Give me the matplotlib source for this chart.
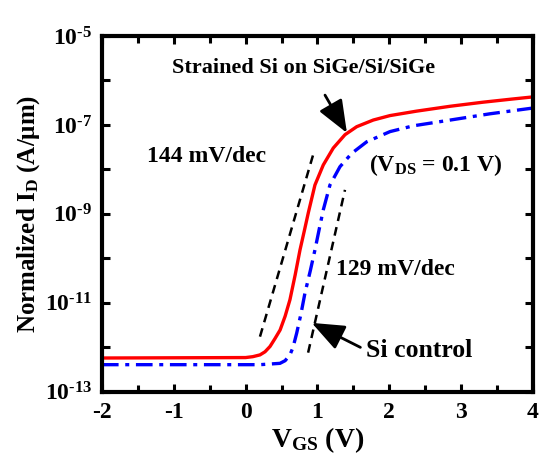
import matplotlib
matplotlib.use('Agg')
import matplotlib.pyplot as plt
import numpy as np
from matplotlib.ticker import MultipleLocator, LogLocator, FuncFormatter

plt.rcParams['font.family'] = 'Liberation Serif'
plt.rcParams['font.weight'] = 'bold'
plt.rcParams['mathtext.fontset'] = 'custom'
plt.rcParams['mathtext.rm'] = 'Liberation Serif:bold'
plt.rcParams['mathtext.it'] = 'Liberation Serif:bold'
plt.rcParams['mathtext.bf'] = 'Liberation Serif:bold'
plt.rcParams['mathtext.default'] = 'rm'

# Strained Si on SiGe/Si/SiGe (red), log10 of I_D
vgs_strained = [-2.0, 0.0, 0.10, 0.20, 0.27, 0.34, 0.41, 0.48, 0.55, 0.617, 0.69,
                0.757, 0.82, 0.872, 0.965, 1.081, 1.22, 1.383, 1.546, 1.777, 2.01,
                2.38, 2.85, 3.3, 3.7, 4.0]
logid_strained = [-12.24, -12.23, -12.21, -12.17, -12.10, -11.98, -11.80, -11.61,
                  -11.30, -10.93, -10.37, -9.81, -9.36, -8.98, -8.35, -7.90, -7.52,
                  -7.22, -7.04, -6.89, -6.79, -6.69, -6.58, -6.49, -6.42, -6.37]

# Si control (blue)
vgs_control = [-2.0, 0.2, 0.478, 0.55, 0.617, 0.66, 0.711, 0.77, 0.826, 0.9, 0.965,
               1.03, 1.081, 1.174, 1.313, 1.476, 1.685, 2.01, 2.334, 2.85, 3.4, 4.0]
logid_control = [-12.39, -12.39, -12.36, -12.30, -12.17, -12.0, -11.68, -11.25,
                 -10.78, -10.28, -9.81, -9.30, -8.91, -8.35, -7.94, -7.64, -7.38,
                 -7.15, -7.02, -6.89, -6.75, -6.62]

# subthreshold slope guide lines
slope_left_v = [0.20, 0.94]
slope_left_log = [-11.76, -7.67]
slope_right_v = [0.87, 1.383]
slope_right_log = [-12.12, -8.46]

fig = plt.figure(figsize=(5.45, 4.67), dpi=100)
ax = fig.add_axes([0.187, 0.161, 0.791, 0.762])

ax.semilogy(vgs_strained, np.power(10.0, logid_strained), color='#ff0000', lw=2.4)
ax.semilogy(vgs_control, np.power(10.0, logid_control), color='#0000ff', lw=2.4,
            dashes=(5, 2, 1.2, 2))
ax.semilogy(slope_left_v, np.power(10.0, slope_left_log), color='k', lw=1.8,
            dashes=(3.5, 2.5))
ax.semilogy(slope_right_v, np.power(10.0, slope_right_log), color='k', lw=1.8,
            dashes=(3.5, 2.5))

ax.set_xlim(-2, 4)
ax.set_ylim(1e-13, 1e-5)

ax.xaxis.set_major_locator(MultipleLocator(1))
ax.xaxis.set_minor_locator(MultipleLocator(0.5))
ax.yaxis.set_major_locator(LogLocator(base=10, numticks=20))
ax.yaxis.set_minor_locator(LogLocator(base=10, subs=(), numticks=20))


def ylab(val, pos):
    e = int(round(np.log10(val)))
    if e % 2 == 0:
        return ''
    return r'$10^{\text{-}%d}$' % abs(e)


ax.yaxis.set_major_formatter(FuncFormatter(ylab))
ax.xaxis.set_major_formatter(FuncFormatter(lambda v, p: '%d' % v))

ax.tick_params(which='both', direction='in', top=True, right=True, width=2.2,
               labelsize=17, pad=7)
ax.tick_params(which='major', length=6)
ax.tick_params(which='minor', length=5)
for s in ax.spines.values():
    s.set_linewidth(3)

ax.set_xlabel(r'V$_{GS}$ (V)', fontsize=20, fontweight='bold', labelpad=2)
ax.set_ylabel(r'Normalized I$_{D}$ (A/μm)', fontsize=18, fontweight='bold', labelpad=2)

ax.text(0.81, 10 ** -5.72, 'Strained Si on SiGe/Si/SiGe', fontsize=16,
        fontweight='bold', ha='center', va='center')
ax.text(-0.54, 10 ** -7.72, '144 mV/dec', fontsize=17, fontweight='bold',
        ha='center', va='center')
ax.text(2.64, 10 ** -7.9, r'(V$_{DS}$ = 0.1 V)', fontsize=17, fontweight='bold',
        ha='center', va='center')
ax.text(2.08, 10 ** -10.26, '129 mV/dec', fontsize=17, fontweight='bold',
        ha='center', va='center')

head = '-|>,head_length=0.5,head_width=0.2'
ax.annotate('', xy=(1.41, 10 ** -7.18), xytext=(1.105, 10 ** -6.33),
            arrowprops=dict(arrowstyle=head, color='k', lw=2, mutation_scale=40,
                            shrinkA=0, shrinkB=0))
ax.annotate('Si control', xy=(0.92, 10 ** -11.45), xytext=(2.41, 10 ** -12.06),
            fontsize=18.5, fontweight='bold', ha='center', va='center',
            arrowprops=dict(arrowstyle=head, color='k', lw=2, mutation_scale=40,
                            shrinkA=2, shrinkB=0, relpos=(0.0, 0.5)))

fig.savefig('out.png', dpi=100)
